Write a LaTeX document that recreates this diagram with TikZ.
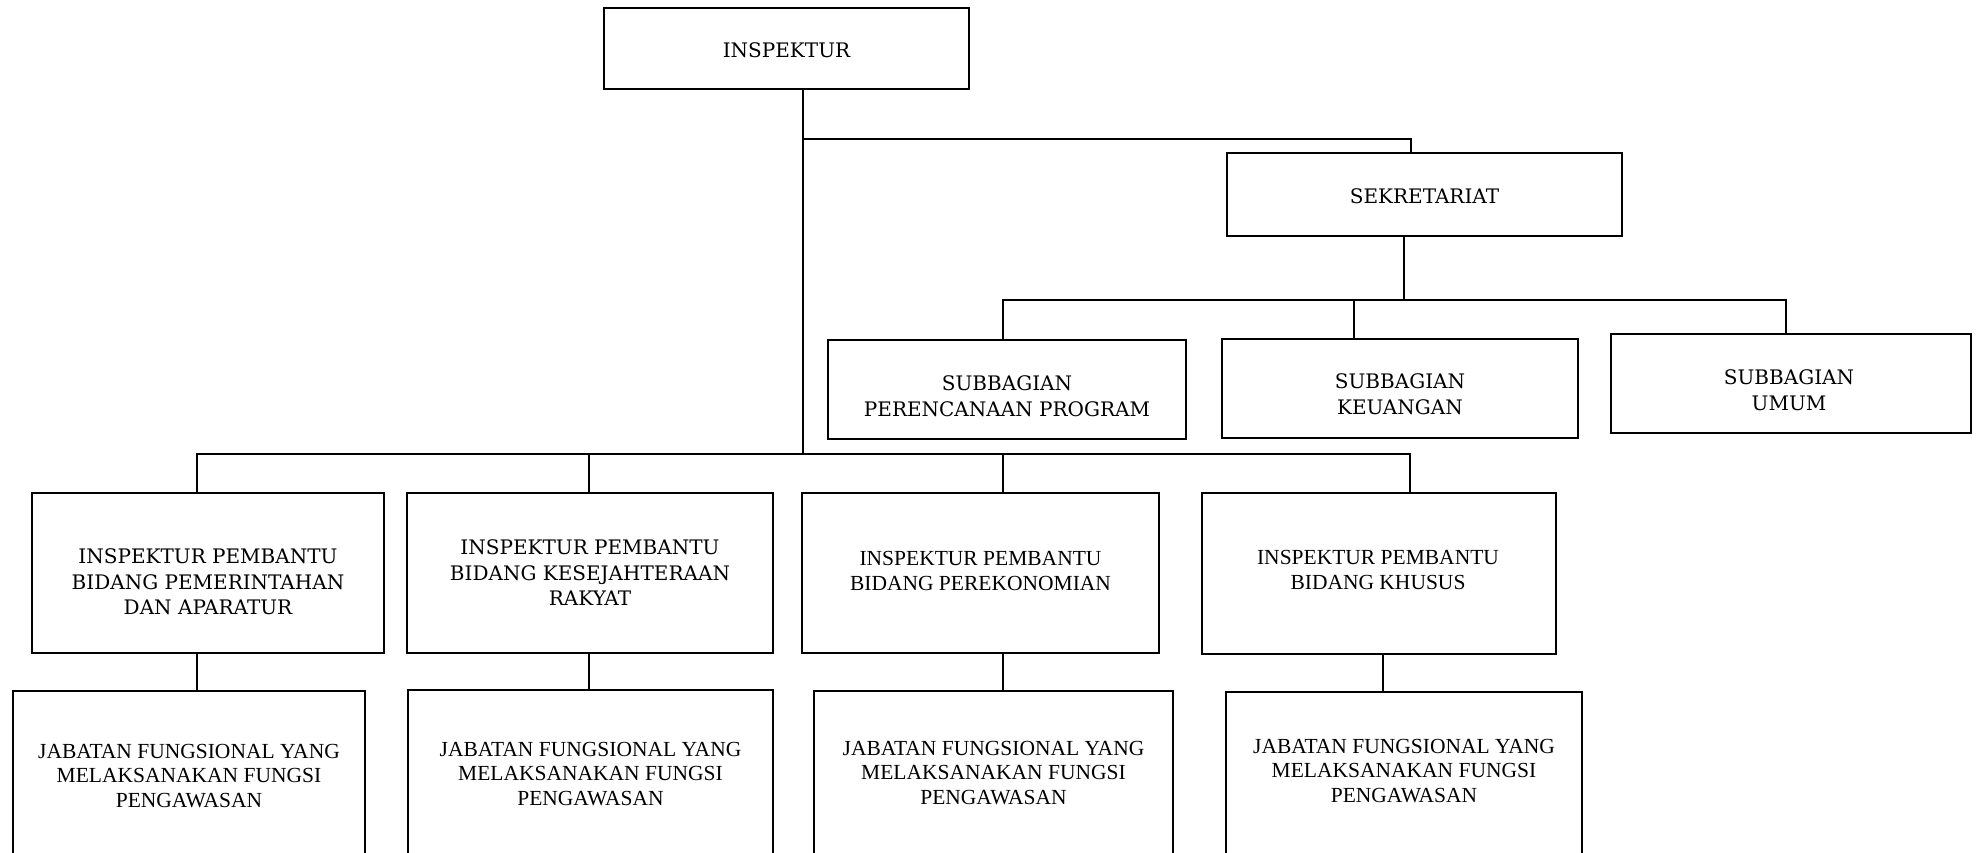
\documentclass[tikz,border=0pt]{standalone}
\usepackage{fontspec}
\setmainfont{Liberation Serif}
\newfontfamily\centfont{DejaVu Serif}
\newfontfamily\tmsfont{Liberation Serif}
\begin{document}
\begin{tikzpicture}[x=1pt,y=-1pt,
  box/.style={draw, line width=2.6pt, rectangle, inner sep=0pt},
  conn/.style={line width=2.2pt, line join=miter},
  ctxt/.style={font=\centfont\fontsize{20}{25.5}\selectfont, align=center, inner sep=0pt},
  ttxt/.style={font=\tmsfont\fontsize{21.5}{24.5}\selectfont, align=center, inner sep=0pt}]
\fill[white] (0,0) rectangle (1978,852);
\useasboundingbox (0,0) rectangle (1978,852);

% boxes
\node[box, minimum width=365, minimum height=81] (insp) at (786.5,48.5) {};
\node[box, minimum width=395, minimum height=83] (sekr) at (1424.5,194.5) {};
\node[box, minimum width=358, minimum height=99] (sb1) at (1007,389.5) {};
\node[box, minimum width=356, minimum height=99] (sb2) at (1400,388.5) {};
\node[box, minimum width=360, minimum height=99] (sb3) at (1791,383.5) {};
\node[box, minimum width=352, minimum height=160] (ip1) at (208,573) {};
\node[box, minimum width=366, minimum height=160] (ip2) at (590,573) {};
\node[box, minimum width=357, minimum height=160] (ip3) at (980.5,573) {};
\node[box, minimum width=354, minimum height=161] (ip4) at (1379,573.5) {};
\node[box, minimum width=352, minimum height=169] (j1) at (189,775.5) {};
\node[box, minimum width=365, minimum height=170] (j2) at (590.5,775) {};
\node[box, minimum width=359, minimum height=169] (j3) at (993.5,775.5) {};
\node[box, minimum width=356, minimum height=168] (j4) at (1404,776) {};

% texts
\node[ctxt] (inspt) at (786.5,50) {INSPEKTUR};
\node[ctxt] (sekrt) at (1424.5,196) {SEKRETARIAT};
\node[ctxt] (sb1t) at (1007,396) {SUBBAGIAN\\PERENCANAAN PROGRAM};
\node[ctxt] (sb2t) at (1400,394) {SUBBAGIAN\\KEUANGAN};
\node[ctxt] (sb3t) at (1789,390) {SUBBAGIAN\\UMUM};
\node[ctxt] (ip1t) at (208,582) {INSPEKTUR PEMBANTU\\BIDANG PEMERINTAHAN\\DAN APARATUR};
\node[ctxt] (ip2t) at (590,573) {INSPEKTUR PEMBANTU\\BIDANG KESEJAHTERAAN\\RAKYAT};
\node[ttxt] (ip3t) at (980.5,571) {INSPEKTUR PEMBANTU\\BIDANG PEREKONOMIAN};
\node[ttxt] (ip4t) at (1378,570) {INSPEKTUR PEMBANTU\\BIDANG KHUSUS};
\node[ttxt] (j1t) at (189,776) {JABATAN FUNGSIONAL YANG\\MELAKSANAKAN FUNGSI\\PENGAWASAN};
\node[ttxt] (j2t) at (590.5,774) {JABATAN FUNGSIONAL YANG\\MELAKSANAKAN FUNGSI\\PENGAWASAN};
\node[ttxt] (j3t) at (993.5,773) {JABATAN FUNGSIONAL YANG\\MELAKSANAKAN FUNGSI\\PENGAWASAN};
\node[ttxt] (j4t) at (1404,771) {JABATAN FUNGSIONAL YANG\\MELAKSANAKAN FUNGSI\\PENGAWASAN};

% junction coordinates
\coordinate (ta) at (803,139);
\coordinate (tb) at (803,454);
\coordinate (xs) at (1411,0);
\coordinate (sa) at (1404,300);
\coordinate (c1) at (1003,300);
\coordinate (c2) at (1354,300);
\coordinate (c3) at (1786,300);
\coordinate (d1) at (197,454);
\coordinate (d2) at (589,454);
\coordinate (d3) at (1003,454);
\coordinate (d4) at (1410,454);
\coordinate (e4) at (1383,0);

% connectors
\draw[conn] (insp.south -| ta) -- (tb);
\draw[conn] (ta) -| (sekr.north -| xs);
\draw[conn] (sekr.south -| sa) -- (sa);
\draw[conn] (sb1.north -| c1) -- (c1) -- (c3) -- (sb3.north -| c3);
\draw[conn] (c2) -- (sb2.north -| c2);
\draw[conn] (ip1.north -| d1) -- (d1) -- (d4) -- (ip4.north -| d4);
\draw[conn] (d2) -- (ip2.north -| d2);
\draw[conn] (d3) -- (ip3.north -| d3);
\draw[conn] (ip1.south -| d1) -- (j1.north -| d1);
\draw[conn] (ip2.south -| d2) -- (j2.north -| d2);
\draw[conn] (ip3.south -| d3) -- (j3.north -| d3);
\draw[conn] (ip4.south -| e4) -- (j4.north -| e4);
\end{tikzpicture}
\end{document}
